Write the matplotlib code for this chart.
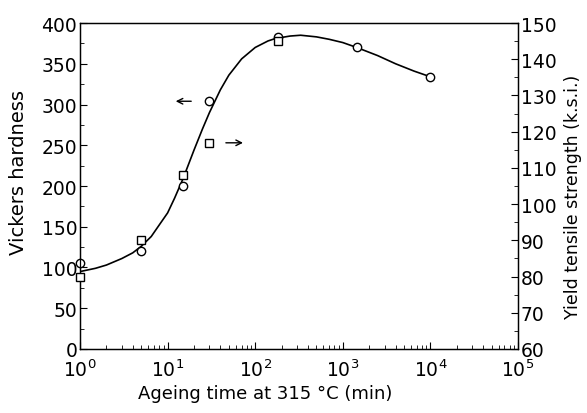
import numpy as np
import matplotlib.pyplot as plt
from matplotlib.ticker import MultipleLocator, LogLocator, NullFormatter

plt.rcParams['font.family'] = ['DejaVu Sans']

# Vickers hardness (circles, left axis)
t_hv = [1, 5, 15, 30, 180, 1440, 10000]
hv = [106, 120, 200, 304, 383, 370, 334]

# Yield tensile strength in k.s.i. (squares, right axis)
t_ys = [1, 5, 15, 30, 180]
ys = [80, 90, 108, 117, 145]

# smooth guide curve (hardness scale)
t_fit = [1, 1.5, 2, 3, 4, 5, 6.5, 8, 10, 12, 15, 20, 25, 30, 40, 50, 70,
         100, 140, 170, 250, 330, 500, 700, 1000, 1440, 2500, 4000, 6500, 10000]
hv_fit = [95, 99, 103, 111, 118, 126, 138, 152, 167, 185, 209, 244, 270, 290, 318, 336, 356,
          370, 378, 381, 384, 385, 383, 380, 376, 370, 360, 350, 341, 334]

fig = plt.figure(figsize=(5.87, 4.14), dpi=100)
ax = fig.add_axes([0.1363, 0.1546, 0.7462, 0.7874])
ax2 = ax.twinx()

ax.plot(t_fit, hv_fit, color='black', lw=1.2)
ax.plot(t_hv, hv, 'o', ms=6, mfc='white', mec='black', mew=1.0, clip_on=False, zorder=5)
ax2.plot(t_ys, ys, 's', ms=6, mfc='white', mec='black', mew=1.0, clip_on=False, zorder=5)

ax.set_xscale('log')
ax.set_xlim(1, 1e5)
ax.set_ylim(0, 400)
ax2.set_ylim(60, 150)

ax.yaxis.set_major_locator(MultipleLocator(50))
ax.yaxis.set_minor_locator(MultipleLocator(25))
ax2.yaxis.set_major_locator(MultipleLocator(10))
ax2.yaxis.set_minor_locator(MultipleLocator(5))
ax.xaxis.set_minor_locator(LogLocator(base=10, subs=np.arange(2, 10), numticks=20))
ax.xaxis.set_minor_formatter(NullFormatter())

for a in (ax, ax2):
    a.tick_params(which='both', direction='in', labelsize=13.5, pad=2)
    a.tick_params(which='major', length=5, width=0.8)
    a.tick_params(which='minor', length=3, width=0.6)
    for s in a.spines.values():
        s.set_linewidth(0.9)
ax.tick_params(axis='x', which='both', top=False, pad=7)

ax.set_xlabel('Ageing time at 315 °C (min)', fontsize=13)
ax.set_ylabel('Vickers hardness', fontsize=14)
ax2.set_ylabel('Yield tensile strength (k.s.i.)', fontsize=12.5)
ax.xaxis.set_label_coords(0.422, -0.107)
ax.yaxis.set_label_coords(-0.119, 0.546)
ax2.yaxis.set_label_coords(1.106, 0.469)

# arrows pointing to the axis each series belongs to
ax.annotate('', xy=(11.5, 304), xytext=(20, 304),
            arrowprops=dict(arrowstyle='->', color='black', lw=1.0))
ax.annotate('', xy=(78, 253), xytext=(43, 253),
            arrowprops=dict(arrowstyle='->', color='black', lw=1.0))

fig.savefig('out.png', dpi=100)
